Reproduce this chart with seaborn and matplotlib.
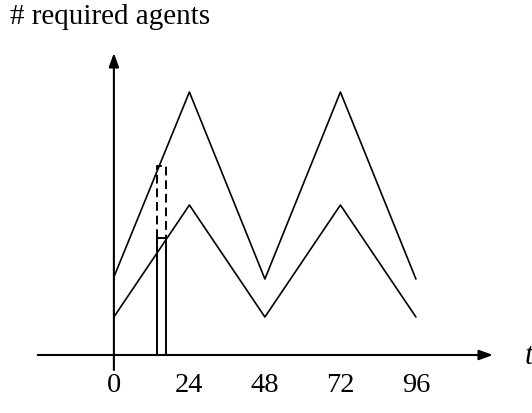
import matplotlib
matplotlib.use("Agg")
import matplotlib.pyplot as plt
import seaborn as sns
import pandas as pd

# data (hours vs. required agents, arbitrary units)
hours = [0, 24, 48, 72, 96]
upper_demand = [78, 263, 76, 263, 76]
lower_demand = [38, 150, 38, 150, 38]
tick_labels = ["0", "24", "48", "72", "96"]
bar_left = 13.7
bar_right = 16.5
solid_top = 117
dashed_top = 189

sns.set_theme(style="white")
plt.rcParams['font.family'] = ['Liberation Serif', 'DejaVu Serif']

fig = plt.figure(figsize=(5.32, 4.13), dpi=100)
ax = fig.add_axes([0, 0, 1, 1])
ax.set_xlim(-36.2, 132.9)
ax.set_ylim(-58, 355)
ax.axis("off")

df = pd.DataFrame({"t": hours * 2,
                   "agents": upper_demand + lower_demand,
                   "series": ["upper"] * 5 + ["lower"] * 5})
sns.lineplot(data=df, x="t", y="agents", units="series", estimator=None,
             color="black", lw=1.2, ax=ax, legend=False)

# solid rectangle
ax.plot([bar_left, bar_left, bar_right, bar_right], [0, solid_top, solid_top, 0],
        color="black", lw=1.4, solid_joinstyle="miter")
# dashed rectangle above
ax.plot([bar_left, bar_left, bar_right, bar_right],
        [solid_top, dashed_top, dashed_top, solid_top],
        color="black", lw=1.4, ls=(0, (4.5, 2.5)))

# axes with arrows
ax.annotate("", xy=(120.5, 0), xytext=(-24.2, 0),
            arrowprops=dict(arrowstyle="-|>,head_length=0.55,head_width=0.2",
                            mutation_scale=15, color="black", lw=1.5,
                            shrinkA=0, shrinkB=0))
ax.annotate("", xy=(0, 302), xytext=(0, -15),
            arrowprops=dict(arrowstyle="-|>,head_length=0.55,head_width=0.2",
                            mutation_scale=15, color="black", lw=1.5,
                            shrinkA=0, shrinkB=0))

for h, lab in zip(hours, tick_labels):
    ax.text(h, -31, lab, ha="center", va="center", fontsize=20.5, color="black")

ax.text(130.5, -2, "t", ha="left", va="center", fontsize=22,
        style="italic", color="black")
fig.text(10 / 532, 1 - 17 / 413, "# required agents", ha="left", va="center",
         fontsize=21, color="black")

fig.savefig("out.png", dpi=100)
